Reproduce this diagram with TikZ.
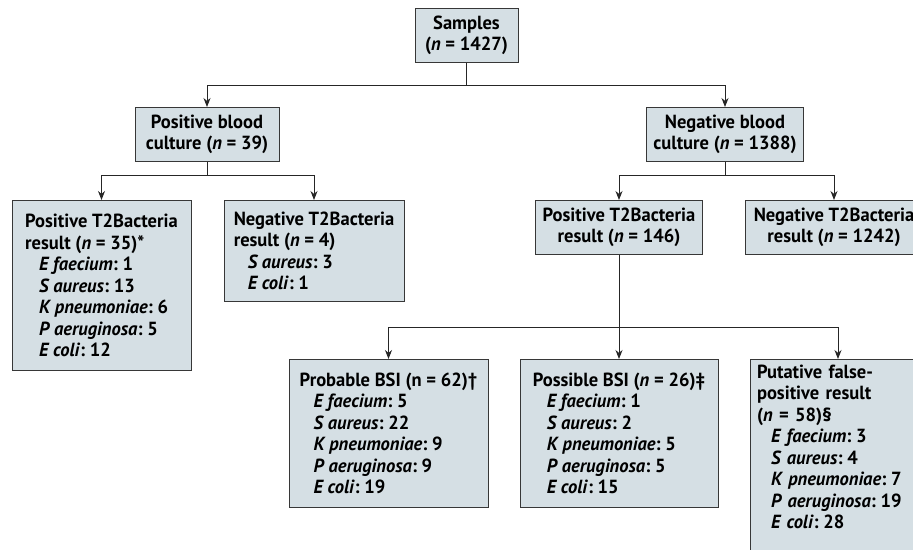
\documentclass[tikz,border=0pt]{standalone}
\usepackage{fontspec}
\setmainfont{PT Sans}[FakeStretch=0.975]
\usetikzlibrary{arrows.meta}
\definecolor{boxfill}{RGB}{213,223,228}
\definecolor{boxline}{RGB}{55,55,55}
\newcommand{\taxon}[2]{\hspace*{14pt}\textit{#1}:\hspace{0.25em}#2}
\tikzset{
  box/.style={draw=boxline, fill=boxfill, line width=1pt, inner xsep=7pt, inner ysep=5pt,
    font=\fontsize{19}{21.5}\selectfont\bfseries, anchor=north},
  ctrbox/.style={box, align=center, minimum height=54pt},
  lstbox/.style={box, align=left},
  link/.style={line width=0.9pt, draw=black!85},
  arr/.style={link, -{Stealth[length=9pt,width=7pt]}}
}
\begin{document}
\begin{tikzpicture}[x=1pt, y=-1pt]
    \useasboundingbox (0,0) rectangle (913,549);
    \clip (0,0) rectangle (913,549);

    % Top and blood cultures
    \node[ctrbox, minimum width=103pt] (samples) at (466.5,8) {Samples\\(\textit{n} = 1427)};
    \node[ctrbox, minimum width=144pt] (posblood) at (207,107) {Positive blood\\culture (\textit{n} = 39)};
    \node[ctrbox, minimum width=152pt] (negblood) at (725,107) {Negative blood\\culture (\textit{n} = 1388)};

    % T2Bacteria results
    \node[lstbox, minimum height=170pt, minimum width=179pt] (posT2a) at (101.5,200)
        {Positive T2Bacteria\\result (\textit{n} = 35)*\\\taxon{E faecium}{1}\\\taxon{S aureus}{13}\\
         \taxon{K pneumoniae}{6}\\\taxon{P aeruginosa}{5}\\\taxon{E coli}{12}};
    \node[lstbox, minimum height=101pt, minimum width=180pt] (negT2a) at (314,200)
        {Negative T2Bacteria\\result (\textit{n} = 4)\\\taxon{S aureus}{3}\\\taxon{E coli}{1}};
    \node[ctrbox, minimum width=162pt] (posT2b) at (619,200) {Positive T2Bacteria\\result (\textit{n} = 146)};
    \node[ctrbox, minimum width=178pt] (negT2b) at (834,200) {Negative T2Bacteria\\result (\textit{n} = 1242)};

    % Classification of positive results
    \node[lstbox, minimum height=148pt, minimum width=199pt] (probable) at (388.5,359)
        {Probable BSI (n = 62)\textdagger\\\taxon{E faecium}{5}\\\taxon{S aureus}{22}\\
         \taxon{K pneumoniae}{9}\\\taxon{P aeruginosa}{9}\\\taxon{E coli}{19}};
    \node[lstbox, minimum height=148pt, minimum width=198pt] (possible) at (619,359)
        {Possible BSI (\textit{n} = 26)\textdaggerdbl\\\taxon{E faecium}{1}\\\taxon{S aureus}{2}\\
         \taxon{K pneumoniae}{5}\\\taxon{P aeruginosa}{5}\\\taxon{E coli}{15}};
    \node[lstbox, text width=162pt] (putative) at (838,359)
        {Putative false-\\positive result\\(\textit{n} = 58)\S\\\taxon{E faecium}{3}\\\taxon{S aureus}{4}\\
         \taxon{K pneumoniae}{7}\\\taxon{P aeruginosa}{19}\\\taxon{E coli}{28}\\\mbox{}};

    % Connectors
    \coordinate (s1) at (466.5,85);
    \draw[link] (samples) -- (s1);
    \draw[arr] (s1) -| (posblood);
    \draw[arr] (s1) -| (negblood);

    \coordinate (p1) at (207,175);
    \draw[link] (posblood) -- (p1);
    \draw[arr] (p1) -| (posT2a);
    \draw[arr] (p1) -| (negT2a);

    \coordinate (n1) at (725,175);
    \draw[link] (negblood) -- (n1);
    \draw[arr] (n1) -| (posT2b);
    \draw[arr] (n1) -| (negT2b);

    \coordinate (t1) at (619,327);
    \draw[link] (posT2b) -- (t1);
    \draw[arr] (t1) -| (probable);
    \draw[arr] (t1) -- (possible);
    \draw[arr] (t1) -| (putative);
\end{tikzpicture}
\end{document}
